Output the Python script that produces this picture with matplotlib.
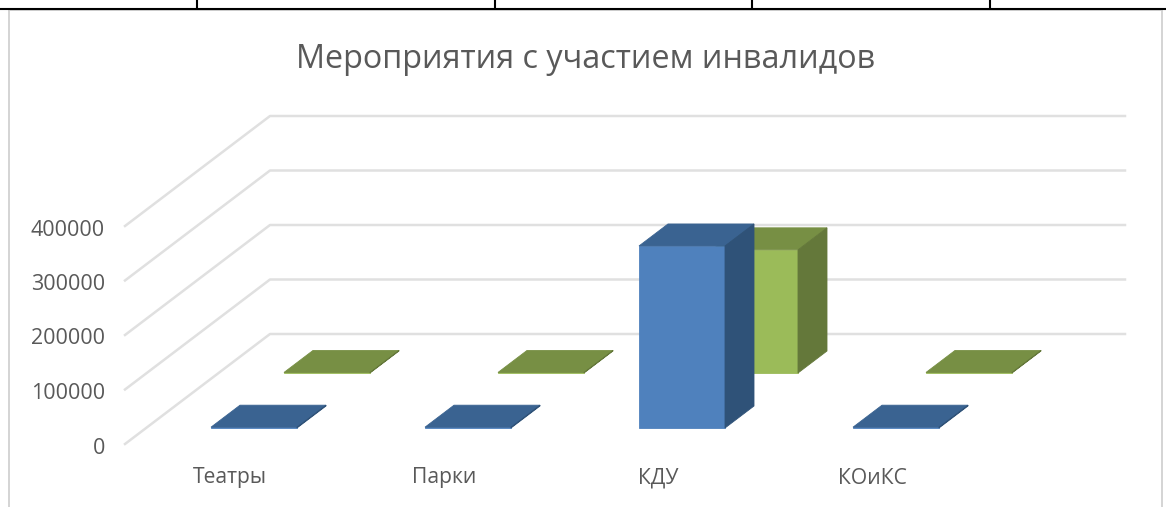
import matplotlib
matplotlib.use("Agg")
import matplotlib.pyplot as plt
from matplotlib.patches import Polygon

plt.rcParams['font.family'] = ['Open Sans', 'DejaVu Sans']

# chart data
categories = ["Театры", "Парки", "КДУ", "КОиКС"]
series_1 = [1500, 1500, 334000, 1500]
series_2 = [1000, 1000, 226000, 1000]
y_ticks = [0, 100000, 200000, 300000, 400000]

# colours per series: front, top, side
BLUE = ("#4f81bd", "#3a6391", "#2f5278")
GREEN = ("#9bbb59", "#778f44", "#64783a")
GRID = "#e0e0e0"
TEXT = "#595959"

# pseudo 3d layout in pixels
Y_ZERO = 444
PX_PER_UNIT = 54.5 / 100000
FLOOR_DX, FLOOR_DY = 145, -110
BAR_W = 86
BAR_DX, BAR_DY = 29, -22
CAT_X0, CAT_STEP = 211, 214
SERIES_DX = 73
BASE_Y = [428, 373]


def draw_bar(ax, x, base, value, colours, z):
    top = base - value * PX_PER_UNIT
    r = x + BAR_W
    ax.add_patch(Polygon([(x, base), (r, base), (r, top), (x, top)],
                         fc=colours[0], ec=colours[0], lw=0.6, zorder=z))
    ax.add_patch(Polygon([(x, top), (r, top), (r + BAR_DX, top + BAR_DY), (x + BAR_DX, top + BAR_DY)],
                         fc=colours[1], ec=colours[1], lw=0.6, zorder=z))
    ax.add_patch(Polygon([(r, base), (r + BAR_DX, base + BAR_DY), (r + BAR_DX, top + BAR_DY), (r, top)],
                         fc=colours[2], ec=colours[2], lw=0.6, zorder=z))


fig = plt.figure(figsize=(11.66, 5.07), dpi=100)
ax = fig.add_axes([0, 0, 1, 1])
ax.set_xlim(0, 1166)
ax.set_ylim(507, 0)
ax.axis("off")

# table rules above the chart, chart frame
ax.plot([0, 1166], [8.5, 8.5], color="black", lw=1.5, zorder=5)
for x in [197, 495, 752, 990]:
    ax.plot([x, x], [0, 8], color="black", lw=1.5, zorder=5)
ax.plot([8.5, 8.5, 1161.5, 1161.5], [507, 9.5, 9.5, 507], color="#d4d4d4", lw=1.4, zorder=4)

ax.text(586, 59, "Мероприятия с участием инвалидов", color=TEXT, fontsize=23.3,
        ha="center", va="center")

# wall and floor gridlines
for v in y_ticks:
    y = Y_ZERO - v * PX_PER_UNIT
    ax.plot([125, 125 + FLOOR_DX, 1125], [y, y + FLOOR_DY, y + FLOOR_DY],
            color=GRID, lw=1.8, zorder=1)
    ax.text(105, y + 4, str(v), color=TEXT, fontsize=15.5, ha="right", va="center")

# back series first so the front one covers it
for i, v in enumerate(series_2):
    draw_bar(ax, CAT_X0 + SERIES_DX + i * CAT_STEP, BASE_Y[1], v, GREEN, 2)
for i, v in enumerate(series_1):
    draw_bar(ax, CAT_X0 + i * CAT_STEP, BASE_Y[0], v, BLUE, 3)

for i, name in enumerate(categories):
    ax.text(CAT_X0 + 19 + i * CAT_STEP, 478, name, color=TEXT, fontsize=15.2,
            ha="center", va="center")

fig.savefig("out.png", dpi=100)
